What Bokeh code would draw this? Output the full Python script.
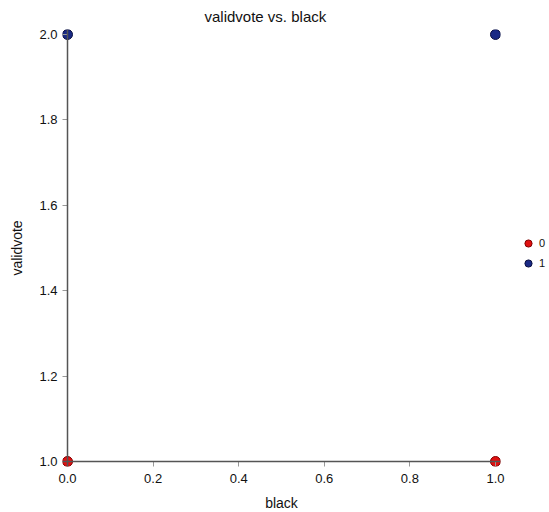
from bokeh.plotting import figure
from bokeh.models import Legend, LegendItem, Range1d, PrintfTickFormatter, Span
from bokeh.embed import file_html
from bokeh.resources import INLINE

black_0 = [0.0, 1.0]
validvote_0 = [1.0, 1.0]
black_1 = [0.0, 1.0]
validvote_1 = [2.0, 2.0]
groups = ["0", "1"]
colors = ["#e01010", "#1a2a85"]
x_ticks = [0.0, 0.2, 0.4, 0.6, 0.8, 1.0]
y_ticks = [1.0, 1.2, 1.4, 1.6, 1.8, 2.0]

pad = 0.0117
p = figure(output_backend="svg", toolbar_location=None,
           frame_width=438, frame_height=437,
           x_range=Range1d(0 - pad, 1 + pad), y_range=Range1d(1 - pad, 2 + pad),
           title="validvote vs. black",
           min_border_left=62, min_border_top=28, min_border_right=48, min_border_bottom=10)
p.title.align = "left"
p.title.offset = 142
p.title.text_font = "Liberation Sans"
p.title.text_font_style = "normal"
p.title.text_font_size = "15px"
p.title.text_color = "#111111"
p.grid.visible = False
p.outline_line_color = None
for ax in (p.xaxis[0], p.yaxis[0]):
    ax.axis_line_color = None
    ax.major_tick_line_color = "#999999"
    ax.major_tick_out = 0
    ax.major_tick_in = 5
    ax.minor_tick_line_color = None
    ax.major_label_text_font = "Liberation Sans"
    ax.major_label_text_font_size = "13px"
    ax.major_label_text_color = "#111111"
    ax.axis_label_text_font = "Liberation Sans"
    ax.axis_label_text_font_style = "normal"
    ax.axis_label_text_font_size = "14px"
    ax.axis_label_text_color = "#111111"
    ax.formatter = PrintfTickFormatter(format="%.1f")
p.yaxis.axis_label_standoff = 11
p.xaxis.major_label_standoff = 7
p.xaxis.axis_label_standoff = 9
p.xaxis.ticker = x_ticks
p.yaxis.ticker = y_ticks
p.xaxis.axis_label = "black"
p.yaxis.axis_label = "validvote"

p.add_layout(Span(location=x_ticks[0], dimension="height", line_color="#555555", line_width=1.5))
p.add_layout(Span(location=y_ticks[0], dimension="width", line_color="#555555", line_width=1.5))

r0 = p.scatter(black_0, validvote_0, size=10, fill_color=colors[0], line_color="#800000", line_width=1)
r1 = p.scatter(black_1, validvote_1, size=10, fill_color=colors[1], line_color="#0a1040", line_width=1)

legend = Legend(items=[LegendItem(label=groups[0], renderers=[r0]),
                       LegendItem(label=groups[1], renderers=[r1])],
                border_line_color=None, background_fill_alpha=0,
                label_text_font="Liberation Sans", label_text_font_size="11px",
                label_text_color="#111111",
                glyph_width=18, glyph_height=18, spacing=2, label_standoff=2,
                padding=0, margin=0, location=(19, 194))
p.add_layout(legend, "right")

open("out.html", "w").write(file_html(p, INLINE))
